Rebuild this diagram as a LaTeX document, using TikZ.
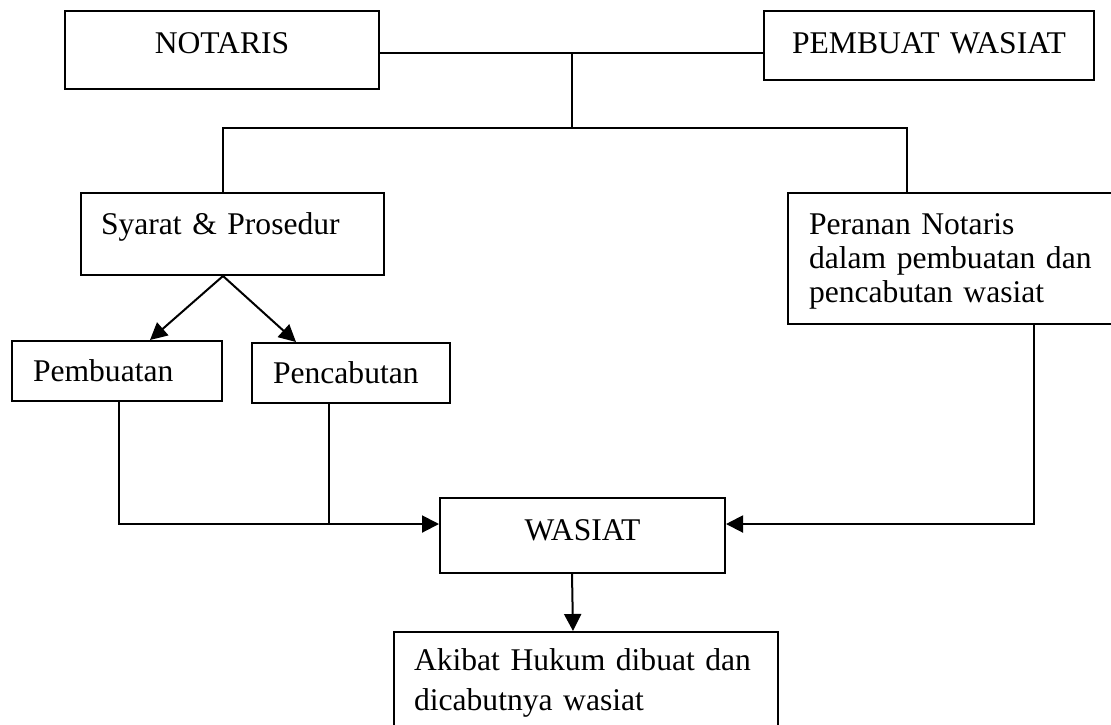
\documentclass[tikz,border=0pt]{standalone}
\usepackage{fontspec}
\setmainfont{Liberation Serif}
\usetikzlibrary{calc, arrows.meta, positioning}
\begin{document}
\begin{tikzpicture}[x=0.5pt, y=-0.5pt, line width=1pt,
    every node/.style={font=\fontsize{15.8}{17}\selectfont},
    box/.style={draw, inner sep=0pt, anchor=north west},
    arr/.style={-{Triangle[length=8.5pt,width=8.5pt]}}]
    \useasboundingbox (0,0) rectangle (1111,724);
    % boxes
    \node[box, text width=157pt, align=center, text height=21pt, text depth=18pt] (notaris) at (64,10) {NOTARIS};
    \node[box, text width=165pt, align=center, text height=21pt, text depth=13.5pt] (pembuat) at (763,10) {PEMBUAT WASIAT};
    \node[box, inner xsep=10pt, text width=131.5pt, align=left, text height=20.5pt, text depth=20.5pt] (syarat) at (80,192) {Syarat \& Prosedur};
    \node[box, inner xsep=10.5pt, text width=150.5pt, align=left, text height=20.5pt, text depth=45pt] (peranan) at (787,192) {Peranan Notaris\\dalam pembuatan dan\\pencabutan wasiat};
    \node[box, inner xsep=10.5pt, text width=84pt, align=left, text height=20pt, text depth=10pt] (pembuatan) at (11,340) {Pembuatan};
    \node[box, inner xsep=10.5pt, text width=78pt, align=left, text height=20pt, text depth=10pt] (pencabutan) at (251,342) {Pencabutan};
    \node[box, text width=142.5pt, align=center, text height=21pt, text depth=16.5pt] (wasiat) at (439,497) {WASIAT};
    \node[box, inner xsep=10pt, text width=172pt, align=left, text height=19pt, text depth=45.5pt,
          font=\fontsize{15.8}{20}\selectfont] (akibat) at (393,631) {Akibat Hukum dibuat dan\\dicabutnya wasiat};
    % connectors
    \coordinate (top) at (572,53);
    \coordinate (split) at (572,128);
    \coordinate (lj) at (223,128);
    \coordinate (rj) at (907,128);
    \draw (notaris.east |- top) -- (pembuat.west |- top);
    \draw (top) -- (split);
    \draw (syarat.north -| lj) -- (lj) -- (rj) -- (peranan.north -| rj);
    \draw[arr] (syarat.south -| lj) -- ($(pembuatan.north west)+(139,0)$);
    \draw[arr] (syarat.south -| lj) -- ($(pencabutan.north west)+(45,0)$);
    \coordinate (win) at ($(wasiat.north west)+(0,27)$);
    \coordinate (wine) at ($(wasiat.north east)+(0,27)$);
    \coordinate (pc) at ($(pencabutan.south west)+(78,0)$);
    \draw[arr] ($(pembuatan.south west)+(108,0)$) |- (win);
    \draw (pc) -- (pc |- win);
    \draw[arr] ($(peranan.south west)+(247,0)$) |- (wine);
    \draw[arr] ($(wasiat.south west)+(133,0)$) -- ($(akibat.north west)+(180,0)$);
\end{tikzpicture}
\end{document}
